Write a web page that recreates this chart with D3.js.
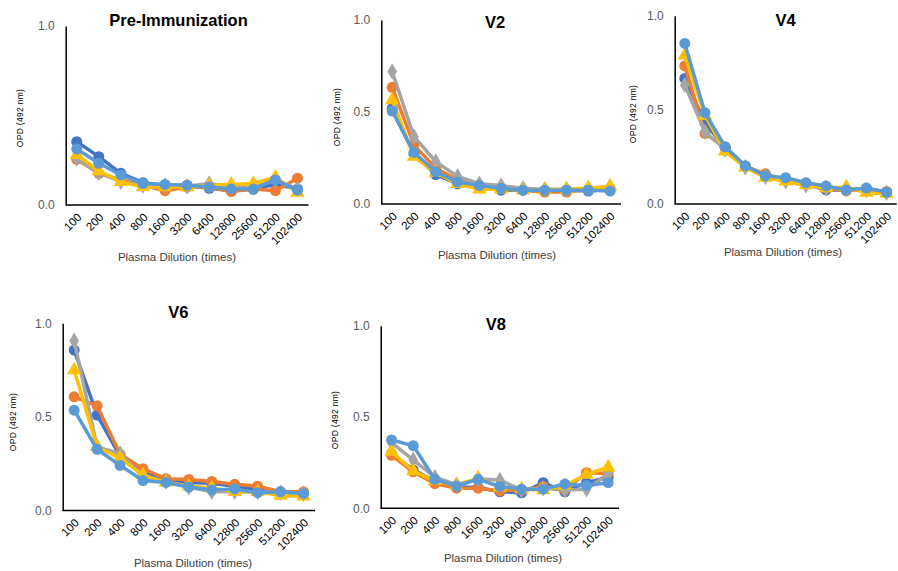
<!DOCTYPE html>
<html>
<head>
<meta charset="utf-8">
<script src="https://cdn.jsdelivr.net/npm/d3@7"></script>
<style>
  html, body { margin: 0; padding: 0; background: #fff; }
  svg { display: block; font-family: "Liberation Sans", Arial, sans-serif; }
</style>
</head>
<body>
<svg id="chart" width="898" height="571"></svg>
<script>
// Plasma dilution series (x categories)
const dilutions = ["100", "200", "400", "800", "1600", "3200", "6400", "12800", "25600", "51200", "102400"];

// Five samples per visit, same order in every panel
const sampleNames = ["Sample 1", "Sample 2", "Sample 3", "Sample 4", "Sample 5"];

// OPD (492 nm) readings per visit, one row per sample
const preImmunization = [
  [0.354, 0.270, 0.177, 0.125, 0.110, 0.110, 0.093, 0.080, 0.088, 0.115, 0.090],
  [0.255, 0.177, 0.140, 0.110, 0.080, 0.100, 0.100, 0.075, 0.090, 0.080, 0.150],
  [0.260, 0.180, 0.130, 0.110, 0.110, 0.105, 0.120, 0.100, 0.100, 0.140, 0.090],
  [0.280, 0.190, 0.130, 0.100, 0.100, 0.100, 0.110, 0.115, 0.120, 0.155, 0.070],
  [0.313, 0.233, 0.168, 0.120, 0.115, 0.110, 0.100, 0.090, 0.090, 0.140, 0.083]
];
const visit2 = [
  [0.520, 0.270, 0.160, 0.110, 0.090, 0.075, 0.075, 0.070, 0.075, 0.070, 0.080],
  [0.634, 0.320, 0.195, 0.130, 0.100, 0.085, 0.075, 0.065, 0.065, 0.080, 0.085],
  [0.720, 0.366, 0.230, 0.150, 0.110, 0.100, 0.085, 0.080, 0.080, 0.085, 0.095],
  [0.565, 0.257, 0.170, 0.110, 0.080, 0.080, 0.075, 0.075, 0.080, 0.085, 0.095],
  [0.505, 0.280, 0.175, 0.120, 0.100, 0.085, 0.075, 0.075, 0.075, 0.075, 0.070]
];
const visit4 = [
  [0.667, 0.430, 0.300, 0.200, 0.150, 0.130, 0.105, 0.075, 0.075, 0.080, 0.065],
  [0.733, 0.375, 0.300, 0.200, 0.160, 0.125, 0.105, 0.085, 0.070, 0.080, 0.065],
  [0.632, 0.384, 0.290, 0.195, 0.145, 0.120, 0.100, 0.085, 0.080, 0.075, 0.060],
  [0.790, 0.470, 0.280, 0.195, 0.140, 0.120, 0.100, 0.085, 0.090, 0.060, 0.055],
  [0.853, 0.485, 0.304, 0.203, 0.150, 0.140, 0.113, 0.096, 0.075, 0.085, 0.062]
];
const visit6 = [
  [0.857, 0.510, 0.290, 0.200, 0.165, 0.150, 0.145, 0.130, 0.110, 0.100, 0.095],
  [0.607, 0.559, 0.300, 0.223, 0.170, 0.166, 0.155, 0.140, 0.130, 0.100, 0.100],
  [0.907, 0.340, 0.304, 0.180, 0.155, 0.125, 0.100, 0.100, 0.100, 0.095, 0.090],
  [0.750, 0.340, 0.280, 0.190, 0.150, 0.130, 0.120, 0.100, 0.100, 0.080, 0.075],
  [0.536, 0.327, 0.241, 0.160, 0.150, 0.125, 0.110, 0.115, 0.095, 0.100, 0.090]
];
const visit8 = [
  [0.300, 0.210, 0.150, 0.115, 0.115, 0.090, 0.085, 0.140, 0.090, 0.140, 0.170],
  [0.290, 0.200, 0.135, 0.110, 0.110, 0.095, 0.100, 0.120, 0.100, 0.195, 0.190],
  [0.360, 0.265, 0.170, 0.130, 0.160, 0.155, 0.100, 0.110, 0.100, 0.105, 0.190],
  [0.310, 0.204, 0.150, 0.125, 0.165, 0.115, 0.105, 0.100, 0.125, 0.185, 0.225],
  [0.374, 0.343, 0.159, 0.122, 0.159, 0.120, 0.105, 0.105, 0.133, 0.125, 0.140]
];

const panelTitles = ["Pre-Immunization", "V2", "V4", "V6", "V8"];
const panelData = [preImmunization, visit2, visit4, visit6, visit8];
const panelYTicks = [[0, 1], [0, 0.5, 1], [0, 0.5, 1], [0, 0.5, 1], [0, 0.5, 1]];
const yAxisTitle = "OPD (492 nm)";
const xAxisTitle = "Plasma Dilution (times)";

// Office palette and marker shapes per sample
const colors = ["#4472C4", "#ED7D31", "#A5A5A5", "#FFC000", "#5B9BD5"];
const shapes = [d3.symbolCircle, d3.symbolCircle, d3.symbolDiamond, d3.symbolTriangle, d3.symbolCircle];
const shapeSizes = [95, 95, 80, 90, 95];

// Plot frames for the five small multiples
const frames = [
  { x0: 65.7, x1: 308.5, top: 26, bottom: 205, titleX: 178.5, titleY: 26, yLabX: 20, yLabY: 118, xTitleX: 177, xTitleY: 261 },
  { x0: 381.3, x1: 621, top: 20, bottom: 204, titleX: 495, titleY: 28, yLabX: 337, yLabY: 117, xTitleX: 497, xTitleY: 259 },
  { x0: 674.7, x1: 896.7, top: 15.7, bottom: 204, titleX: 785.5, titleY: 26, yLabX: 633, yLabY: 114, xTitleX: 783, xTitleY: 256 },
  { x0: 62.7, x1: 315, top: 323.3, bottom: 510.5, titleX: 178.3, titleY: 318, yLabX: 13, yLabY: 422, xTitleX: 193, xTitleY: 567 },
  { x0: 380.7, x1: 619, top: 325.7, bottom: 508.3, titleX: 495.8, titleY: 330, yLabX: 335, yLabY: 420, xTitleX: 503, xTitleY: 562 }
];

const svg = d3.select("#chart");

panelData.forEach((rows, p) => {
  const f = frames[p];
  const g = svg.append("g");

  const x = d3.scalePoint().domain(dilutions).range([f.x0, f.x1]).padding(0.5);
  const y = d3.scaleLinear().domain([0, 1]).range([f.bottom, f.top]);

  // Y axis: line plus labelled ticks
  const yAxis = d3.axisLeft(y).tickValues(panelYTicks[p]).tickSize(0).tickPadding(11).tickFormat(d3.format(".1f"));
  const ya = g.append("g").attr("transform", `translate(${f.x0},0)`).call(yAxis);
  ya.select(".domain").attr("stroke", "#000").attr("stroke-width", 1.5);
  ya.selectAll("text").attr("font-size", 12).attr("fill", "#595959")
    .attr("font-family", "Liberation Sans, Arial, sans-serif");

  // X axis: line plus rotated dilution labels
  const xAxis = d3.axisBottom(x).tickSize(0).tickPadding(0);
  const xa = g.append("g").attr("transform", `translate(0,${f.bottom})`).call(xAxis);
  xa.select(".domain").attr("stroke", "#000").attr("stroke-width", 1.5)
    .attr("d", `M${f.x0},0H${f.x1}`);
  xa.selectAll("text")
    .attr("font-size", 11.5).attr("fill", "#000")
    .attr("font-family", "Liberation Sans, Arial, sans-serif")
    .attr("text-anchor", "end")
    .attr("dy", null).attr("y", null)
    .attr("transform", "translate(5,13) rotate(-45)");

  // Series lines, drawn in sample order
  const line = d3.line().x((d, i) => x(dilutions[i])).y(d => y(d));
  rows.forEach((vals, s) => {
    g.append("path")
      .datum(vals)
      .attr("d", line)
      .attr("fill", "none")
      .attr("stroke", colors[s])
      .attr("stroke-width", 3.5)
      .attr("stroke-linejoin", "round")
      .attr("stroke-linecap", "round");
    const sym = d3.symbol().type(shapes[s]).size(shapeSizes[s]);
    g.append("g").selectAll("path")
      .data(vals)
      .join("path")
      .attr("d", sym)
      .attr("transform", (d, i) => `translate(${x(dilutions[i])},${y(d)})`)
      .attr("fill", colors[s]);
  });

  // Titles
  g.append("text")
    .attr("x", f.titleX).attr("y", f.titleY)
    .attr("text-anchor", "middle")
    .attr("font-size", 16.5).attr("font-weight", "bold")
    .text(panelTitles[p]);

  g.append("text")
    .attr("transform", `translate(${f.yLabX},${f.yLabY}) rotate(-90)`)
    .attr("text-anchor", "middle")
    .attr("dy", "0.35em")
    .attr("font-size", 8.5).attr("fill", "#000")
    .attr("letter-spacing", 0.3)
    .text(yAxisTitle);

  g.append("text")
    .attr("x", f.xTitleX).attr("y", f.xTitleY)
    .attr("text-anchor", "middle")
    .attr("font-size", 11.5).attr("fill", "#404040")
    .text(xAxisTitle);
});
</script>
</body>
</html>
